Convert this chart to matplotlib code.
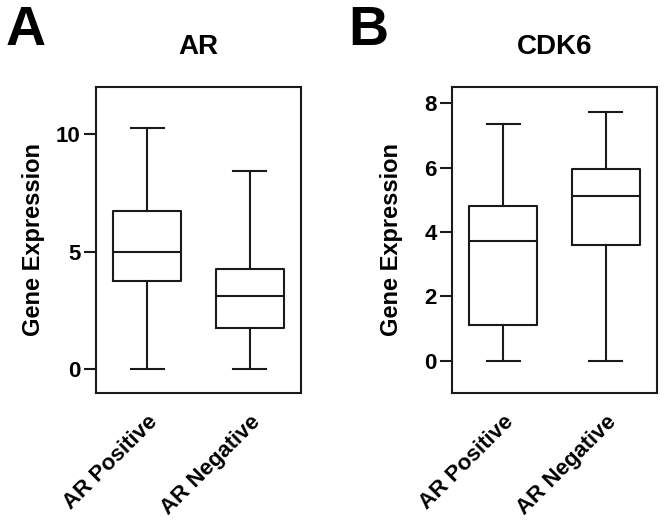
import matplotlib.pyplot as plt

plt.rcParams['font.family'] = ['Liberation Sans', 'DejaVu Sans']

# values (whisker low, Q1, median, Q3, whisker high)
groups = ['AR Positive', 'AR Negative']
ar_lo = [0.0, 0.0]
ar_q1 = [3.76, 1.75]
ar_med = [5.01, 3.12]
ar_q3 = [6.75, 4.25]
ar_hi = [10.27, 8.45]

cdk6_lo = [0.0, 0.0]
cdk6_q1 = [1.11, 3.58]
cdk6_med = [3.72, 5.11]
cdk6_q3 = [4.80, 5.96]
cdk6_hi = [7.36, 7.73]


def make_stats(lo, q1, med, q3, hi):
    out = []
    for i in range(len(lo)):
        out.append(dict(whislo=lo[i], q1=q1[i], med=med[i], q3=q3[i],
                        whishi=hi[i], fliers=[], label=groups[i]))
    return out


fig = plt.figure(figsize=(6.64, 5.23), dpi=100)
ax1 = fig.add_axes([96 / 664, 130 / 523, 205 / 664, 306 / 523])
ax2 = fig.add_axes([452 / 664, 130 / 523, 205 / 664, 306 / 523])

lw = 1.5
props = dict(color='#1a1a1a', linewidth=lw)

for ax, stats, title, ylim, ticks, labx in [
        (ax1, make_stats(ar_lo, ar_q1, ar_med, ar_q3, ar_hi), 'AR', (-1, 12), [0, 5, 10], -0.25),
        (ax2, make_stats(cdk6_lo, cdk6_q1, cdk6_med, cdk6_q3, cdk6_hi), 'CDK6', (-1, 8.5), [0, 2, 4, 6, 8], -0.24)]:
    ax.bxp(stats, positions=[1, 2], widths=0.66, capwidths=0.32, showfliers=False,
           boxprops=props, whiskerprops=props, capprops=props, medianprops=props)
    ax.set_xlim(0.5, 2.5)
    ax.set_ylim(*ylim)
    ax.set_yticks(ticks)
    ax.set_xticks([1, 2])
    ax.set_xticklabels(groups, rotation=45, ha='right', rotation_mode='anchor',
                       fontsize=16, fontweight='bold')
    ax.tick_params(axis='x', length=0, pad=13)
    ax.tick_params(axis='y', length=9, width=lw, labelsize=16, pad=2, color='#1a1a1a')
    for lab in ax.get_yticklabels():
        lab.set_fontweight('bold')
    for s in ax.spines.values():
        s.set_linewidth(lw)
        s.set_color('#1a1a1a')
    ax.set_ylabel('Gene Expression', fontsize=17, fontweight='bold')
    ax.yaxis.set_label_coords(labx, 0.5)
    ax.set_title(title, fontsize=20, fontweight='bold', pad=24)

fig.text(6 / 664, 1 - 45 / 523, 'A', fontsize=40, fontweight='bold')
fig.text(348 / 664, 1 - 45 / 523, 'B', fontsize=40, fontweight='bold')

fig.savefig('out.png', dpi=100)
